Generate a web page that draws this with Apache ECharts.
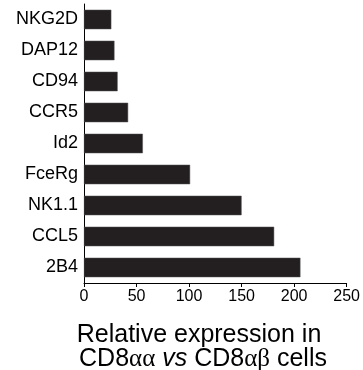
<!DOCTYPE html>
<html>
<head>
<meta charset="utf-8">
<script src="https://cdn.jsdelivr.net/npm/echarts@6/dist/echarts.min.js"></script>
<style>
html,body{margin:0;padding:0;background:#fff;}
#chart{width:363px;height:370px;}
</style>
</head>
<body>
<div id="chart"></div>
<script>
const categories = ['NKG2D', 'DAP12', 'CD94', 'CCR5', 'Id2', 'FceRg', 'NK1.1', 'CCL5', '2B4'];
const values = [26, 29, 32, 42, 56, 101, 150, 181, 206];
const xTicks = [0, 50, 100, 150, 200, 250];

const chart = echarts.init(document.getElementById('chart'));
const FONT = '"Liberation Sans", Arial, Helvetica, sans-serif';
chart.setOption({
  animation: false,
  backgroundColor: '#fff',
  grid: { left: 84, right: 14, top: 4, bottom: 87, containLabel: false },
  xAxis: {
    type: 'value',
    min: xTicks[0],
    max: xTicks[xTicks.length - 1],
    interval: xTicks[1] - xTicks[0],
    axisLine: { show: true, lineStyle: { color: '#000', width: 1 } },
    axisTick: { show: true, length: 4, lineStyle: { color: '#000' } },
    axisLabel: { color: '#000', fontSize: 16, fontFamily: FONT, margin: 6 },
    splitLine: { show: false }
  },
  yAxis: {
    type: 'category',
    data: categories,
    inverse: true,
    axisLine: { show: true, lineStyle: { color: '#000', width: 1 } },
    axisTick: { show: false },
    axisLabel: { color: '#000', fontSize: 18, fontFamily: FONT, margin: 6 }
  },
  series: [{
    type: 'bar',
    data: values,
    barCategoryGap: '37%',
    itemStyle: { color: '#231f20', borderColor: '#555', borderWidth: 0.5 }
  }],
  title: [
    {
      text: 'Relative expression in',
      left: 194, top: 318, textAlign: 'center',
      textStyle: { fontFamily: FONT, fontSize: 25, fontWeight: 'normal', color: '#000' }
    },
    {
      text: '{n|CD8}{g|αα} {i|vs} {n|CD8}{g|αβ}{n| cells}',
      left: 198, top: 342, textAlign: 'center',
      textStyle: {
        fontFamily: FONT, fontSize: 25, fontWeight: 'normal', color: '#000',
        rich: {
          n: { fontFamily: FONT, fontSize: 25, color: '#000' },
          g: { fontFamily: '"Liberation Serif", "DejaVu Serif", serif', fontSize: 25, color: '#000' },
          i: { fontFamily: FONT, fontSize: 25, fontStyle: 'italic', color: '#000' }
        }
      }
    }
  ]
});
</script>
</body>
</html>
